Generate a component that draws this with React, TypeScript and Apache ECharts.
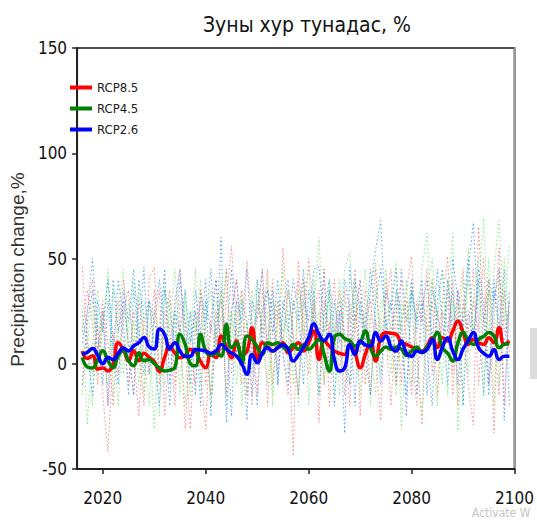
import React, { useEffect, useRef } from "react";
import * as echarts from "echarts";

const TITLE = "Зуны хур тунадас, %";
const Y_NAME = "Precipitation change,%";
const FIRST_YEAR = 2016;
const X_TICKS = [2020, 2040, 2060, 2080, 2100];
const LEGEND = ["RCP8.5", "RCP4.5", "RCP2.6"];

// Thick (ensemble mean) lines, 2016..2099
const rcp85 = [
  6, 2.5, 3.8, -2.5, -2, -3.4, 0, 10, 6.8, 1.4,
  6.2, 1.4, 5, 3, 1, -3.7, 3, 8.3, 5, 2.8,
  4, 6.8, 6, 1, -1.9, 4.4, 2.9, 13.2, 8, 2.9,
  10.8, 4.4, 6, 17.1, 1.3, 10, 8, 6, 8, 10,
  5.2, 7.6, 10, 6, 10, 15.6, 2, 10.8, 8.4, 6,
  5, 4.4, 9.2, 5, -1.9, 4.4, 10.8, 1.3, 12.4, 14.8,
  14.5, 14, 10, 9.2, 8, 7, 6, 8.4, 12.4, 7.6,
  12.4, 10.8, 15.6, 20.3, 14.8, 9.2, 11.6, 10, 9.2, 12.4,
  10, 17.1, 9.2, 10.8,
];
const rcp45 = [
  3, -1.5, -2, 2, 6.2, 1.4, -1.9, 3.8, 6.2, 1.4,
  -1, 5.2, 1.4, 2, 0, -2, -3.5, -3, -1.9, 14,
  9.2, 0, -1, 14, 6, 4, 5, 3.6, 18.7, 7.6,
  10, -0.3, 13.2, 11.6, 8, 4.4, 10, 9.2, 10, 8,
  6.8, 9.2, 6.8, 9, 6.8, 9, 11.6, 4.4, -3.5, 12.4,
  14, 12, 10.8, 8.4, 10, 15.6, 7.6, 3.6, 6, 8,
  6.8, 8, 7, 4, 6, 8, 5.2, 8, 10.8, 14.8,
  7.6, 5, 1.3, 10, 14.8, 11, 9.2, 11.6, 13, 14.8,
  13.2, 7.6, 9.2, 9.5,
];
const rcp26 = [
  4.4, 5.5, 7.2, 4, 0, 3, 2, 5, 7.5, 6,
  8.5, 10, 12.5, 8, 7, 16.5, 14, 7, 10, 6,
  3.5, 3.6, 6.8, 6.5, 6, 5, 6, 9.2, 7, 5,
  3.6, 0, -5, 4.4, 0.5, 5, 7.6, 6, 7.6, 9,
  7, 1.3, 4, 8, 12.4, 19, 14, 11, 14, 2,
  -3.5, -2, 9, 4.4, 10.8, 9, 8.4, 14.8, 10.8, 13.2,
  8, 6, 10.8, 5, 3.6, 6, 5.5, 6.8, 11.6, 2,
  8, 12.4, 6, 2, 7, 11, 14.8, 7.6, 5, 3.6,
  6.8, 2, 3.6, 3.6,
];

// Thin dotted model runs, 2016..2099
const red1 = [
  46, 10, -5, 20, -15, -42, 5, 30, 12, -10,
  25, 8, -20, 40, 46, -5, 15, 35, -10, 20,
  -31, 10, 25, -5, -31, 22, 40, 5, 30, 56,
  15, -10, 49, 20, -15, 35, 10, 40, -5, 55,
  20, -44, 49, 10, 50, 25, -28, 30, 15, 40,
  -5, 35, 10, 45, -25, 20, 30, 5, -27, 40,
  15, 30, -10, 35, 51, 5, -29, 25, 40, 10,
  30, 51, -5, 35, 20, -10, -29, 65, 20, 35,
  -33, 45, 15, 25,
];
const red2 = [
  15, 35, 20, -10, 25, 10, -20, 15, 40, 5,
  -15, 30, 15, -5, 20, 35, -25, 10, 25, 45,
  10, -31, 15, 30, -10, 20, 5, 35, -15, 25,
  40, 5, 20, -20, 30, 15, 45, -10, 25, 10,
  35, 15, -15, 40, 10, 25, 35, -10, 20, 5,
  25, -15, 30, 15, 40, -10, 20, 45, 5, 15,
  -20, 25, 40, 10, -15, 30, 20, 45, -5, 25,
  10, 35, -15, 25, 45, 5, 30, 15, 50, -10,
  20, 55, -20, 30,
];
const red3 = [
  -10, 25, 40, 5, 30, -20, 15, -5, 25, 35,
  5, -25, 20, 10, 35, -10, 25, 15, -20, 30,
  20, 5, -10, 35, 15, -15, 25, 10, 45, -5,
  20, 35, -15, 10, 25, 45, -20, 15, 30, 5,
  -15, 25, 40, 20, -5, 30, 10, 45, -20, 15,
  35, 10, -20, 25, 5, 35, -15, 20, 10, 30,
  45, -10, 20, 30, 5, -20, 35, 15, 30, -15,
  25, 10, 40, -20, 30, 15, 45, -10, 25, 40,
  10, -15, 35, 5,
];
const green1 = [
  20, -29, 10, 35, 15, 45, -15, 25, 45, 5,
  20, -10, 30, 15, -31, 20, 40, 5, 25, -15,
  30, 10, 45, -10, 20, 35, 5, 40, -20, 25,
  10, 35, -15, 25, 40, 10, -10, 30, 20, 45,
  -5, 30, 15, 40, -20, 25, 60, 10, 35, -15,
  20, 45, 53, 10, -15, 25, 35, 48, -5, 20,
  30, 48, -31, 15, 35, 20, 45, 62, 10, -20,
  30, 25, 62, -32, 20, 40, 15, 35, 69, 10,
  45, 68, 20, 57,
];
const green2 = [
  -15, 10, 30, -5, 20, 40, 10, -20, 25, 15,
  40, 20, -15, 30, 10, -25, 35, 15, 45, 10,
  -20, 25, 15, 40, 5, -15, 30, 20, 45, 10,
  30, -20, 15, 35, 5, 25, 40, -15, 20, 10,
  35, 15, -20, 30, 45, 10, 25, -10, 40, 20,
  -15, 30, 20, 40, 5, 25, -20, 35, 15, 45,
  10, -15, 30, 20, 40, 5, -25, 35, 50, 15,
  -10, 40, 20, 30, -20, 55, 15, 35, 10, 50,
  -20, 40, 30, 15,
];
const green3 = [
  30, 15, -20, 25, 5, -10, 35, 15, -5, 30,
  10, 35, 5, -20, 25, 15, -10, 30, 20, 5,
  35, -15, 20, 10, 30, -20, 15, 35, 5, 25,
  -10, 30, 20, -5, 35, 15, 25, -20, 30, 15,
  25, -10, 35, 15, 5, 40, -15, 25, 30, 10,
  40, 5, -10, 30, 20, 45, 10, -15, 30, 25,
  -5, 35, 15, 40, -10, 25, 30, 5, 40, 20,
  45, -15, 30, 15, 40, -5, 30, 50, -15, 35,
  25, -10, 50, 20,
];
const blue1 = [
  10, 25, 50, 15, -10, 30, 5, 40, 20, -15,
  35, 10, 46, -5, 25, 40, 15, -20, 30, 45,
  5, 25, -15, 35, 20, 45, 10, 60, -28, 25,
  40, 15, -27, 30, 20, 45, 5, 35, -10, 25,
  40, 10, -15, 30, 20, 45, 46, 15, 35, -20,
  25, -33, 46, 20, 40, 10, 35, 54, 68, 15,
  30, -10, 45, 20, 35, -15, 25, 40, 10, 45,
  20, -10, 50, 30, 15, 45, 67, 20, -15, 40,
  30, 45, -27, 35,
];
const blue2 = [
  -10, 20, 35, 5, 25, -20, 40, 15, 30, 10,
  -15, 40, 20, 30, 5, -20, 35, 25, 10, 40,
  20, -10, 35, 15, 40, -25, 20, 30, 10, 45,
  5, 30, 20, -15, 40, 10, 35, 25, -10, 30,
  15, 40, 25, -10, 35, 20, 10, 45, -5, 30,
  10, 40, 25, -20, 30, 15, 45, 20, -10, 35,
  25, 45, 10, -15, 35, 20, 40, 5, -20, 30,
  45, 15, 35, -10, 25, 50, 10, 40, 20, -15,
  35, 15, 45, -20,
];
const blue3 = [
  25, 5, -15, 30, 15, 40, 10, -10, 35, 20,
  45, 15, -5, 30, 20, 10, 45, -10, 25, 15,
  35, 10, 25, -20, 30, 15, 40, 5, 20, -25,
  30, 20, 45, 10, -20, 25, 35, 15, 40, 5,
  -10, 30, 20, 45, 5, 35, -15, 25, 40, 10,
  30, 15, -10, 40, 25, 5, -15, 30, 45, 20,
  10, 35, 25, -25, 40, 15, 30, -15, 35, 25,
  5, 40, 15, 35, -20, 25, 10, 45, 30, -10,
  40, 20, 10, 30,
];

const NARROW = "'Liberation Sans Narrow', 'DejaVu Sans Condensed', 'Liberation Sans', Arial, sans-serif";
const SANS = "'Liberation Sans', Arial, sans-serif";

const toPairs = (arr: number[]) => arr.map((v, i) => [FIRST_YEAR + i, v]);

export default function App() {
  const ref = useRef<HTMLDivElement>(null);
  useEffect(() => {
    if (!ref.current) return;
    const chart = echarts.init(ref.current, undefined, { renderer: "svg" });
    const dotted = (name: string, data: number[], color: string) => ({
      name,
      type: "line",
      data: toPairs(data),
      symbol: "none",
      silent: true,
      z: 2,
      lineStyle: { color, width: 1, type: [1.5, 2.5], opacity: 0.8 },
    });
    const thick = (name: string, data: number[], color: string) => ({
      name,
      type: "line",
      data: toPairs(data),
      symbol: "none",
      smooth: 0.5,
      z: 5,
      itemStyle: { color },
      lineStyle: { color, width: 3.5 },
    });
    chart.setOption({
      animation: false,
      backgroundColor: "#ffffff",
      title: {
        text: TITLE,
        left: 302,
        top: 9,
        textAlign: "center",
        textStyle: { fontFamily: NARROW, fontSize: 21, fontWeight: "normal", color: "#111" },
      },
      legend: {
        data: LEGEND,
        orient: "vertical",
        left: 70,
        top: 81,
        padding: 0,
        icon: "rect",
        itemWidth: 22,
        itemHeight: 4,
        itemGap: 8,
        textStyle: { fontFamily: NARROW, fontSize: 13, color: "#222" },
      },
      grid: {
        left: 48,
        right: 21,
        top: 48,
        bottom: 53,
        show: true,
        borderColor: "#505050",
        borderWidth: 2,
        backgroundColor: "transparent",
      },
      xAxis: [
        {
          type: "value",
          min: 2015,
          max: 2100,
          splitLine: { show: false },
          axisLine: { show: true, onZero: false, lineStyle: { color: "#222", width: 2 } },
          axisTick: { show: true, length: 5, customValues: X_TICKS, lineStyle: { color: "#222", width: 1.5 } },
          axisLabel: {
            customValues: X_TICKS,
            formatter: (v: number) => String(v),
            fontFamily: NARROW,
            fontSize: 17,
            color: "#111",
            margin: 20,
          },
        },
      ],
      yAxis: [
        {
          type: "value",
          min: -50,
          max: 150,
          interval: 50,
          name: Y_NAME,
          nameLocation: "middle",
          nameGap: 30,
          nameTextStyle: { fontFamily: SANS, fontSize: 19, color: "#333", padding: [0, 22, 0, 0] },
          splitLine: { show: false },
          axisLine: { show: true, onZero: false, lineStyle: { color: "#222", width: 2 } },
          axisTick: { show: true, length: 5, lineStyle: { color: "#222", width: 1.5 } },
          axisLabel: { fontFamily: NARROW, fontSize: 17, color: "#111", margin: 10 },
        },
        {
          type: "value",
          position: "right",
          min: -50,
          max: 150,
          interval: 50,
          splitLine: { show: false },
          axisLine: { show: true, onZero: false, lineStyle: { color: "#999", width: 2 } },
          axisTick: { show: false },
          axisLabel: { show: false },
        },
      ],
      graphic: [
        { type: "rect", left: 530, top: 328, shape: { width: 7, height: 51 }, style: { fill: "#dcdcdc" }, silent: true },
        {
          type: "text",
          left: 472,
          top: 507,
          style: { text: "Activate W", fill: "#c4c4c4", font: "12px " + NARROW },
          silent: true,
        },
      ],
      series: [
        dotted("RCP8.5 run 1", red1, "#ff6b6b"),
        dotted("RCP4.5 run 1", green1, "#6ee66e"),
        dotted("RCP2.6 run 1", blue1, "#2f8fff"),
        dotted("RCP8.5 run 2", red2, "#ff6b6b"),
        dotted("RCP4.5 run 2", green2, "#6ee66e"),
        dotted("RCP2.6 run 2", blue2, "#2f8fff"),
        dotted("RCP8.5 run 3", red3, "#ff6b6b"),
        dotted("RCP4.5 run 3", green3, "#6ee66e"),
        dotted("RCP2.6 run 3", blue3, "#2f8fff"),
        thick("RCP8.5", rcp85, "#ff0000"),
        thick("RCP4.5", rcp45, "#008000"),
        thick("RCP2.6", rcp26, "#0000ff"),
      ],
    });
    return () => chart.dispose();
  }, []);
  return (
    <div
      ref={ref}
      style={{ position: "fixed", left: 0, top: 0, width: 537, height: 522, background: "#fff" }}
    />
  );
}
